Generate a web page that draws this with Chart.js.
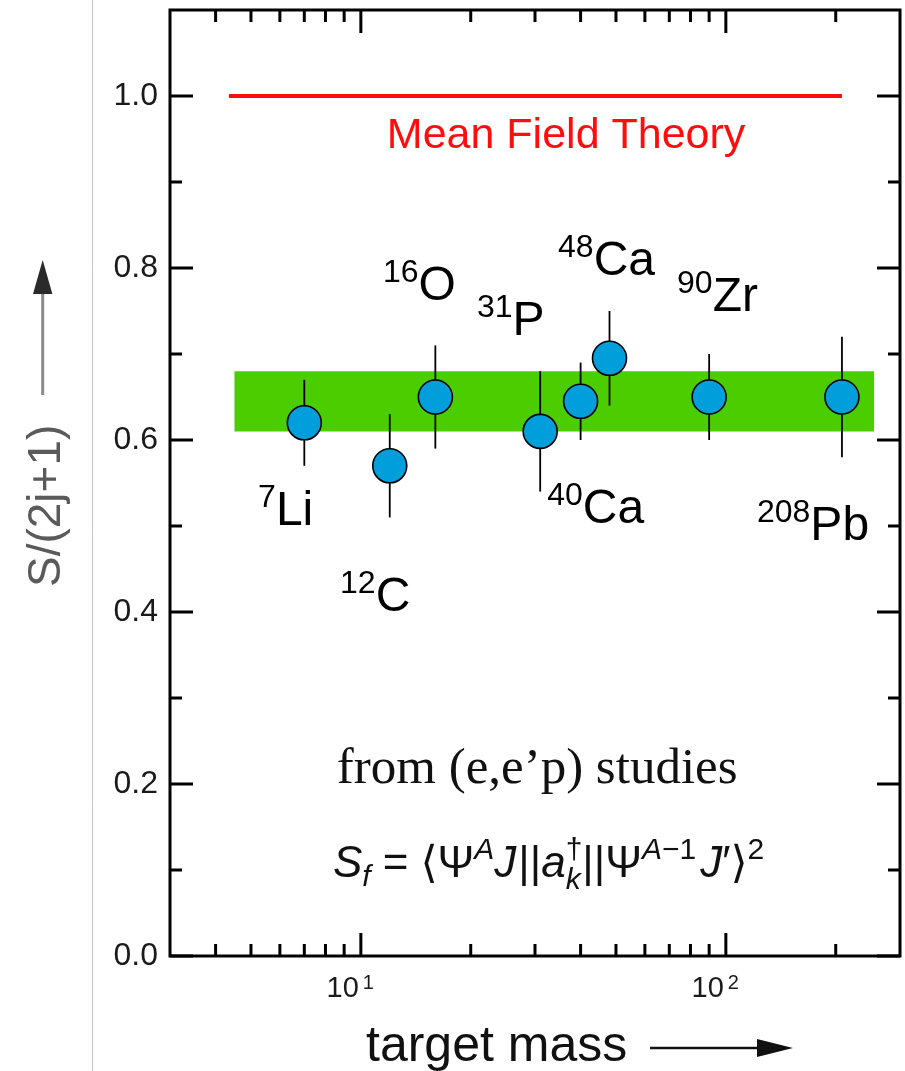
<!DOCTYPE html>
<html>
<head>
<meta charset="utf-8">
<script src="https://cdn.jsdelivr.net/npm/chart.js@4.4.1/dist/chart.umd.min.js"></script>
<style>
  html, body { margin: 0; padding: 0; background: #fff; }
  #wrap { position: relative; width: 905px; height: 1071px; }
</style>
</head>
<body>
<div id="wrap"><canvas id="sfChart"></canvas></div>
<script>
/* ── Data ─────────────────────────────────────────────── */
const MASS   = [7, 12, 16, 31, 40, 48, 90, 208];
const SF     = [0.62, 0.57, 0.65, 0.61, 0.645, 0.695, 0.65, 0.65];
const SF_ERR = [0.05, 0.06, 0.06, 0.07, 0.045, 0.055, 0.05, 0.07];
const ISO_A   = ['7', '12', '16', '31', '40', '48', '90', '208'];
const ISO_SYM = ['Li', 'C', 'O', 'P', 'Ca', 'Ca', 'Zr', 'Pb'];

// green band (quenched strength) and mean-field line
const BAND_X  = [4.5, 255];
const BAND_LO = 0.61;
const BAND_HI = 0.68;
const MFT_X   = [4.35, 208];
const MFT_Y   = 1.0;

// ticks
const X_MINOR  = [4, 5, 6, 7, 8, 9, 20, 30, 40, 50, 60, 70, 80, 90, 200];
const X_MAJOR  = [10, 100];
const X_EXP    = ['1', '2'];
const Y_MINOR  = [0.1, 0.3, 0.5, 0.7, 0.9];
const Y_MAJOR  = [0.0, 0.2, 0.4, 0.6, 0.8, 1.0];
const Y_LABELS = ['0.0', '0.2', '0.4', '0.6', '0.8', '1.0'];

/* ── Layout of the isotope labels (data units: left edge, baseline) ── */
const LABEL_AT_X = [5.23, 8.77, 11.5, 20.8, 32.4, 34.7, 73.5, 121.7];
const LABEL_AT_Y = [0.501, 0.401, 0.763, 0.722, 0.503, 0.792, 0.750, 0.484];

/* ── Styles ───────────────────────────────────────────── */
const SANS  = '"Liberation Sans", Arial, "DejaVu Sans", sans-serif';
const SERIF = '"Liberation Serif", "Times New Roman", serif';
const BLUE  = '#009fdb';
const GREEN = '#4ccd00';
const RED   = '#ff0d0d';

/* ── Frame, ticks, labels and texts ───────────────────── */
function drawErrorBars(chart) {
    const { ctx, scales: { x, y } } = chart;
    ctx.save();
    ctx.strokeStyle = '#000';
    ctx.lineWidth = 1.8;
    MASS.forEach((m, i) => {
        const px = x.getPixelForValue(m);
        ctx.beginPath();
        ctx.moveTo(px, y.getPixelForValue(SF[i] - SF_ERR[i]));
        ctx.lineTo(px, y.getPixelForValue(SF[i] + SF_ERR[i]));
        ctx.stroke();
    });
    ctx.restore();
}

function drawFormula(ctx, x0, base) {
    const M = 44, s = 30, up = -18, dn = 9;
    const it = sz => `italic ${sz}px ${SANS}`;
    const rm = sz => `${sz}px ${SANS}`;
    let x = x0;
    const put = (t, font, dy = 0, adv = true) => {
        ctx.font = font;
        ctx.fillText(t, x, base + dy);
        const w = ctx.measureText(t).width;
        if (adv) x += w;
        return w;
    };
    put('S', it(M));
    put('f', it(s), dn);
    x += 12; put('=', rm(M)); x += 12;
    put('\u27E8', rm(M));
    put('\u03A8', rm(M));
    put('A', it(s), up);
    put('J', it(M));
    x += 2; put('|', rm(M)); put('|', rm(M));
    put('a', it(M));
    const w1 = put('\u2020', rm(s), up, false);
    const w2 = put('k', it(s), dn + 3, false);
    x += Math.max(w1, w2);
    put('|', rm(M)); put('|', rm(M));
    put('\u03A8', rm(M));
    put('A', it(s), up);
    put('\u22121', rm(s), up);
    x += 4;
    put('J', it(M));
    put('\u2032', rm(M));
    put('\u27E9', rm(M));
    put('2', rm(s), up);
}

const framePlugin = {
    id: 'frame',
    beforeDatasetDraw(chart, args) {
        if (args.index === 3) drawErrorBars(chart);
    },
    afterDraw(chart) {
        const { ctx, chartArea: a, scales: { x, y } } = chart;
        ctx.save();

        // slide edge
        ctx.strokeStyle = '#c4c4c4';
        ctx.lineWidth = 1;
        ctx.beginPath(); ctx.moveTo(92.5, 0); ctx.lineTo(92.5, 1071); ctx.stroke();

        // box
        ctx.strokeStyle = '#000';
        ctx.lineWidth = 3;
        ctx.strokeRect(a.left, a.top, a.right - a.left, a.bottom - a.top);

        // inward ticks on all four sides
        const tickX = (v, len) => {
            const px = x.getPixelForValue(v);
            ctx.beginPath();
            ctx.moveTo(px, a.bottom); ctx.lineTo(px, a.bottom - len);
            ctx.moveTo(px, a.top);    ctx.lineTo(px, a.top + len);
            ctx.stroke();
        };
        const tickY = (v, len) => {
            const py = y.getPixelForValue(v);
            ctx.beginPath();
            ctx.moveTo(a.left, py);  ctx.lineTo(a.left + len, py);
            ctx.moveTo(a.right, py); ctx.lineTo(a.right - len, py);
            ctx.stroke();
        };
        X_MINOR.forEach(v => tickX(v, 12));
        X_MAJOR.forEach(v => tickX(v, 23));
        Y_MINOR.forEach(v => tickY(v, 12));
        Y_MAJOR.forEach(v => tickY(v, 23));

        // y tick labels
        ctx.fillStyle = '#1a1a1a';
        ctx.font = `32px ${SANS}`;
        ctx.textAlign = 'right';
        ctx.textBaseline = 'middle';
        Y_MAJOR.forEach((v, i) => ctx.fillText(Y_LABELS[i], a.left - 12, y.getPixelForValue(v)));

        // x tick labels 10^n
        ctx.textBaseline = 'alphabetic';
        X_MAJOR.forEach((v, i) => {
            const px = x.getPixelForValue(v);
            ctx.font = `29px ${SANS}`;
            ctx.textAlign = 'right';
            ctx.fillText('10', px - 2, a.bottom + 41);
            ctx.font = `20px ${SANS}`;
            ctx.textAlign = 'left';
            ctx.fillText(X_EXP[i], px + 2, a.bottom + 33);
        });

        // isotope labels
        ctx.fillStyle = '#000';
        ctx.textAlign = 'left';
        ISO_A.forEach((A, i) => {
            const px = x.getPixelForValue(LABEL_AT_X[i]);
            const py = y.getPixelForValue(LABEL_AT_Y[i]);
            ctx.font = `32px ${SANS}`;
            ctx.fillText(A, px, py - 18);
            const w = ctx.measureText(A).width;
            ctx.font = `48px ${SANS}`;
            ctx.fillText(ISO_SYM[i], px + w, py);
        });

        // Mean Field Theory
        ctx.fillStyle = RED;
        ctx.font = `43px ${SANS}`;
        ctx.textAlign = 'center';
        ctx.fillText('Mean Field Theory', x.getPixelForValue(36.5), y.getPixelForValue(0.9395));

        // from (e,e'p) studies
        ctx.fillStyle = '#111';
        ctx.font = `51px ${SERIF}`;
        ctx.textAlign = 'left';
        ctx.fillText('from (e,e\u2019p) studies', x.getPixelForValue(8.59), y.getPixelForValue(0.201));

        // spectroscopic factor definition
        ctx.fillStyle = '#111';
        drawFormula(ctx, x.getPixelForValue(8.39), y.getPixelForValue(0.092));

        // y title with arrow
        ctx.save();
        ctx.translate(47, 587);
        ctx.rotate(-Math.PI / 2);
        ctx.fillStyle = '#5a5a5a';
        ctx.font = `46px ${SANS}`;
        ctx.textAlign = 'left';
        ctx.textBaseline = 'middle';
        ctx.fillText('S/(2j+1)', 0, 0);
        ctx.restore();
        ctx.strokeStyle = '#8a8a8a';
        ctx.lineWidth = 3;
        ctx.beginPath(); ctx.moveTo(42.7, 395); ctx.lineTo(42.7, 292); ctx.stroke();
        ctx.fillStyle = '#2a2a2a';
        ctx.beginPath(); ctx.moveTo(42.7, 260); ctx.lineTo(33, 294); ctx.lineTo(52.4, 294); ctx.closePath(); ctx.fill();

        // x title with arrow
        ctx.fillStyle = '#111';
        ctx.font = `50px ${SANS}`;
        ctx.textAlign = 'left';
        ctx.textBaseline = 'alphabetic';
        ctx.fillText('target mass', 366, 1061);
        ctx.strokeStyle = '#111';
        ctx.lineWidth = 2.5;
        ctx.beginPath(); ctx.moveTo(650, 1048); ctx.lineTo(760, 1048); ctx.stroke();
        ctx.beginPath(); ctx.moveTo(793, 1048); ctx.lineTo(757, 1039); ctx.lineTo(757, 1057); ctx.closePath(); ctx.fill();

        ctx.restore();
    }
};

/* ── Chart ────────────────────────────────────────────── */
new Chart(document.getElementById('sfChart'), {
    type: 'line',
    data: {
        datasets: [
            {
                label: 'band hi',
                data: BAND_X.map(v => ({ x: v, y: BAND_HI })),
                borderWidth: 0, pointRadius: 0,
                backgroundColor: GREEN, fill: '+1', order: 3,
            },
            {
                label: 'band lo',
                data: BAND_X.map(v => ({ x: v, y: BAND_LO })),
                borderWidth: 0, pointRadius: 0, fill: false, order: 3,
            },
            {
                label: 'Mean Field Theory',
                data: MFT_X.map(v => ({ x: v, y: MFT_Y })),
                borderColor: RED, borderWidth: 4, pointRadius: 0, fill: false, order: 2,
            },
            {
                label: 'S/(2j+1)',
                data: MASS.map((m, i) => ({ x: m, y: SF[i] })),
                showLine: false,
                pointRadius: 17,
                pointBackgroundColor: BLUE,
                pointBorderColor: '#000',
                pointBorderWidth: 1.6,
                order: 1,
            }
        ]
    },
    options: {
        responsive: true,
        maintainAspectRatio: false,
        animation: false,
        events: [],
        layout: { autoPadding: false, padding: { left: 170, top: 10, right: 5, bottom: 115 } },
        plugins: { legend: { display: false }, tooltip: { enabled: false } },
        scales: {
            x: { type: 'logarithmic', min: 3, max: 300, display: false },
            y: { type: 'linear', min: 0, max: 1.1, display: false }
        }
    },
    plugins: [framePlugin]
});
</script>
</body>
</html>
